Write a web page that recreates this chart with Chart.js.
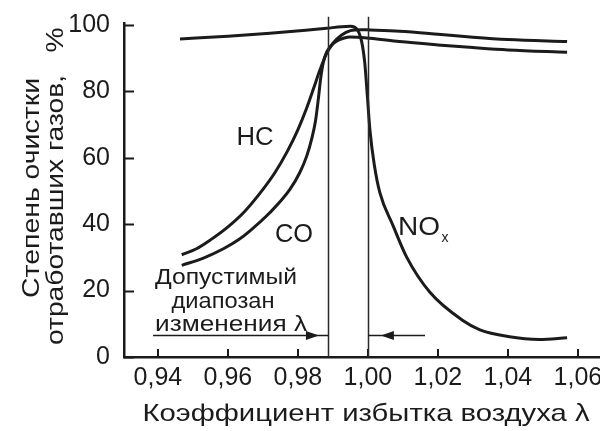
<!DOCTYPE html>
<html>
<head>
<meta charset="utf-8">
<script src="https://cdn.jsdelivr.net/npm/chart.js@4.4.1/dist/chart.umd.min.js"></script>
<style>
    html, body { margin: 0; padding: 0; background: #fff; }
    #wrap { width: 600px; height: 431px; }
</style>
</head>
<body>
<div id="wrap"><canvas id="chart" width="600" height="431"></canvas></div>
<script>
// Values (λ -> степень очистки, %)
const hcLambda = [0.9468, 0.951, 0.9549, 0.96, 0.9649, 0.97, 0.9734, 0.977, 0.98, 0.9825, 0.9845, 0.9863, 0.988, 0.99, 0.9925, 0.995, 0.998, 1.0006, 1.009, 1.02, 1.03, 1.04, 1.0569];
const hcValues = [30.8, 32.6, 35.2, 39.2, 44, 50.5, 55.5, 62, 68.5, 75, 81, 86.5, 91, 94.5, 97, 98.3, 98.6, 98.5, 98.1, 97.2, 96.3, 95.6, 95];

const coLambda = [0.9468, 0.953, 0.9587, 0.963, 0.9663, 0.972, 0.9777, 0.9805, 0.9825, 0.984, 0.985, 0.9858, 0.9865, 0.9872, 0.9882, 0.9895, 0.991, 0.993, 0.9949, 1.0006, 1.009, 1.02, 1.03, 1.04, 1.0569];
const coValues = [27.6, 29.8, 32.6, 35.3, 38, 43.5, 50.5, 55.5, 60.5, 66, 71, 77.5, 84, 88.5, 91.8, 93.8, 95.1, 96, 96.4, 96, 95, 94, 93.2, 92.5, 91.8];

const noxLambda = [0.9463, 0.96, 0.972, 0.9822, 0.9882, 0.9925, 0.995, 0.997, 0.9982, 0.9991, 0.9998, 1.0006, 1.0018, 1.0034, 1.0072, 1.0111, 1.0177, 1.0271, 1.032, 1.04, 1.049, 1.0569];
const noxValues = [95.8, 96.6, 97.5, 98.4, 99, 99.5, 99.6, 98.5, 95, 88.5, 79, 68, 58, 49.5, 39.5, 30, 19.5, 11, 8.2, 6.2, 5.3, 5.8];

const xTicks = [0.94, 0.96, 0.98, 1.00, 1.02, 1.04, 1.06];
const yTicks = [0, 20, 40, 60, 80, 100];

// допустимый диапазон изменения λ
const windowBounds = [0.9886, 1.0];
const arrowLevel = 6.6;
const leftArrow = [0.9386, 0.9886, 0.986];   // start, end, head tip
const rightArrow = [1.0163, 1.0, 1.0037];

const ink = '#1b1b1b';
const fontFamily = '"Liberation Sans", Arial, sans-serif';

function toPoints(xs, ys) {
    return xs.map((x, i) => ({ x: x, y: ys[i] }));
}

// draws text squeezed/stretched to the width it has in the scan
function fitText(ctx, text, x, y, width, size, rotated) {
    ctx.save();
    ctx.font = `${size}px ${fontFamily}`;
    const w = ctx.measureText(text).width;
    ctx.translate(x, y);
    if (rotated) ctx.rotate(-Math.PI / 2);
    ctx.scale(width / w, 1);
    ctx.textAlign = 'center';
    ctx.textBaseline = 'alphabetic';
    ctx.fillStyle = ink;
    ctx.fillText(text, 0, 0);
    ctx.restore();
}

function arrowHead(ctx, tipX, y, dir) {
    ctx.beginPath();
    ctx.moveTo(tipX, y);
    ctx.lineTo(tipX - dir * 13, y - 4.5);
    ctx.lineTo(tipX - dir * 13, y + 4.5);
    ctx.closePath();
    ctx.fill();
}

const annotations = {
    id: 'annotations',
    afterDraw(chart) {
        const { ctx } = chart;
        const xs = chart.scales.x;
        const ys = chart.scales.y;

        ctx.save();
        ctx.strokeStyle = ink;
        ctx.fillStyle = ink;

        // inward tick marks
        ctx.lineWidth = 2;
        ctx.beginPath();
        yTicks.forEach(v => {
            const py = Math.round(ys.getPixelForValue(v)) + 0.5;
            ctx.moveTo(xs.left, py);
            ctx.lineTo(xs.left + 10, py);
        });
        xTicks.forEach(v => {
            const px = Math.round(xs.getPixelForValue(v));
            ctx.moveTo(px, ys.bottom);
            ctx.lineTo(px, ys.bottom - 8);
        });
        ctx.stroke();

        // limits of the window
        ctx.lineWidth = 1.5;
        ctx.strokeStyle = '#2a2a2a';
        ctx.beginPath();
        windowBounds.forEach(v => {
            const px = Math.round(xs.getPixelForValue(v)) + 0.5;
            ctx.moveTo(px, ys.getPixelForValue(0));
            ctx.lineTo(px, ys.getPixelForValue(102.5));
        });
        ctx.stroke();

        // arrows
        const ay = Math.round(ys.getPixelForValue(arrowLevel)) + 0.5;
        ctx.strokeStyle = ink;
        ctx.lineWidth = 1.5;
        ctx.beginPath();
        ctx.moveTo(xs.getPixelForValue(leftArrow[0]), ay);
        ctx.lineTo(xs.getPixelForValue(leftArrow[1]), ay);
        ctx.moveTo(xs.getPixelForValue(rightArrow[0]), ay);
        ctx.lineTo(xs.getPixelForValue(rightArrow[1]), ay);
        ctx.stroke();
        arrowHead(ctx, xs.getPixelForValue(leftArrow[2]), ay, 1);
        arrowHead(ctx, xs.getPixelForValue(rightArrow[2]), ay, -1);

        // axis titles
        fitText(ctx, 'Коэффициент избытка воздуха λ', 366, 421, 447, 24, false);
        fitText(ctx, 'Степень очистки', 39, 188, 220, 24, true);
        fitText(ctx, 'отработавших газов,', 63, 210, 270, 24, true);
        fitText(ctx, '%', 63, 40, 25, 24, true);

        // curve labels
        fitText(ctx, 'HC', 255, 145, 37, 26, false);
        fitText(ctx, 'CO', 294, 242, 38, 26, false);
        fitText(ctx, 'NO', 419, 235, 42, 26, false);
        fitText(ctx, 'x', 445, 242, 7, 14, false);

        fitText(ctx, 'Допустимый', 226, 284, 142, 22, false);
        fitText(ctx, 'диапозан', 223, 308, 103, 22, false);
        fitText(ctx, 'изменения λ', 231, 331, 152, 22, false);

        ctx.restore();
    }
};

function curve(label, xs, ys) {
    return {
        label: label,
        data: toPoints(xs, ys),
        borderColor: ink,
        borderWidth: 3,
        pointRadius: 0,
        fill: false,
        cubicInterpolationMode: 'monotone',
        clip: false
    };
}

new Chart(document.getElementById('chart'), {
    type: 'line',
    data: {
        datasets: [
            curve('HC', hcLambda, hcValues),
            curve('CO', coLambda, coValues),
            curve('NOx', noxLambda, noxValues)
        ]
    },
    options: {
        responsive: false,
        animation: false,
        devicePixelRatio: 1,
        layout: { padding: { top: 23, left: 0, right: 0, bottom: 0 } },
        plugins: {
            legend: { display: false },
            tooltip: { enabled: false }
        },
        scales: {
            x: {
                type: 'linear',
                min: 0.9303,
                max: 1.0663,
                grid: { display: false, drawTicks: false, tickLength: 0 },
                border: { display: true, color: ink, width: 2.5 },
                afterBuildTicks: scale => { scale.ticks = xTicks.map(v => ({ value: v })); },
                afterFit: scale => {
                    scale.height = 74;
                    scale.paddingLeft = 0;
                    scale.paddingRight = 0;
                },
                ticks: {
                    padding: 6,
                    color: ink,
                    font: { family: fontFamily, size: 25 },
                    maxRotation: 0,
                    autoSkip: false,
                    callback: v => v.toFixed(2).replace('.', ',')
                }
            },
            y: {
                min: 0,
                max: 100.6,
                grid: { display: false, drawTicks: false, tickLength: 0 },
                border: { display: true, color: ink, width: 2.5 },
                afterBuildTicks: scale => { scale.ticks = yTicks.map(v => ({ value: v })); },
                afterFit: scale => {
                    scale.width = 124;
                    scale.paddingTop = 0;
                    scale.paddingBottom = 0;
                },
                ticks: {
                    padding: 14,
                    color: ink,
                    font: { family: fontFamily, size: 25 },
                    callback: v => String(v)
                }
            }
        }
    },
    plugins: [annotations]
});
</script>
</body>
</html>
